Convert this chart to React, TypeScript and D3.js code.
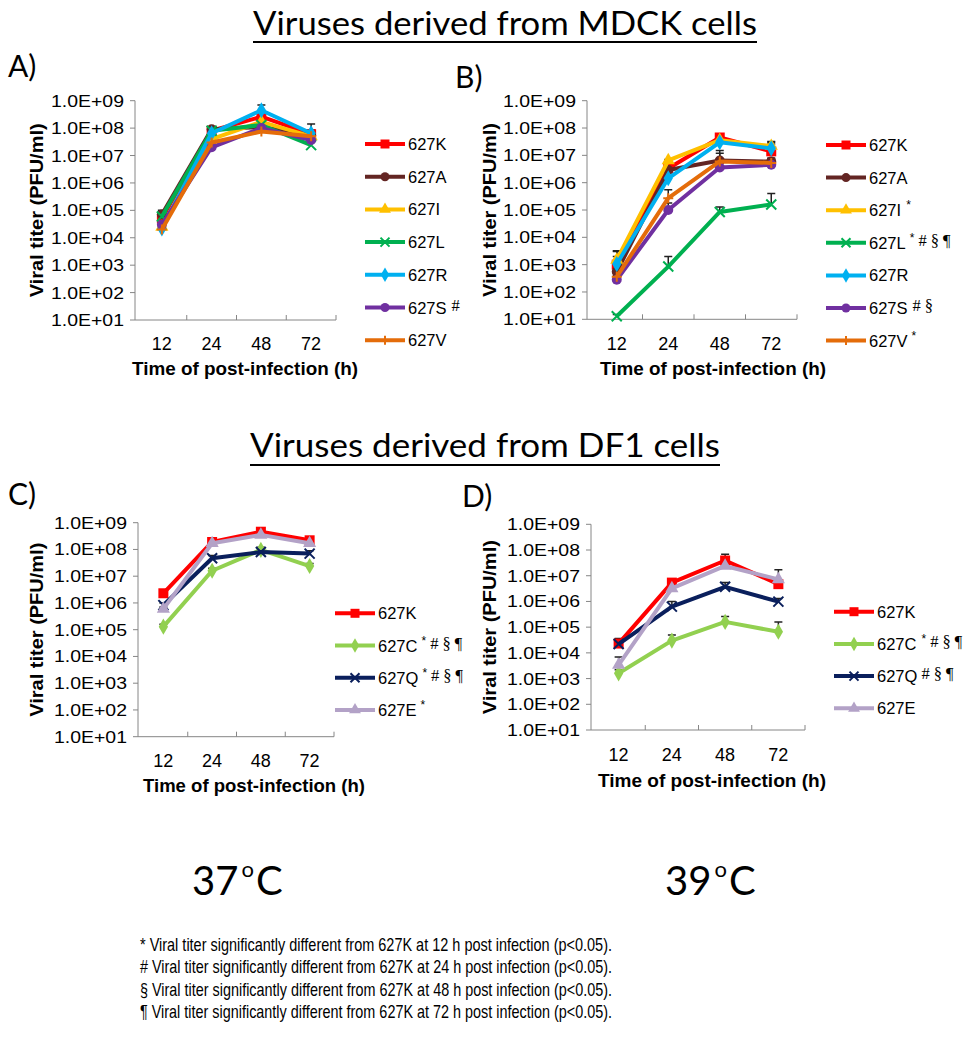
import * as d3 from 'd3';

const TIMES = ['12', '24', '48', '72'];
const DECADES = [1e1, 1e2, 1e3, 1e4, 1e5, 1e6, 1e7, 1e8, 1e9];

// A) MDCK 37C
const A_NAMES = ['627K', '627A', '627I', '627L', '627R', '627S', '627V'];
const A_MARKS = ['', '', '', '', '', ' #', ''];
const A_627K = [5.0e4, 8.0e7, 2.6e8, 6.0e7];
const A_627A = [7.0e4, 9.0e7, 1.1e8, 5.5e7];
const A_627I = [2.5e4, 4.0e7, 1.7e8, 5.0e7];
const A_627L = [6.0e4, 8.0e7, 1.3e8, 2.4e7];
const A_627R = [2.2e4, 6.5e7, 4.5e8, 6.5e7];
const A_627S = [3.0e4, 2.0e7, 1.0e8, 3.7e7];
const A_627V = [2.0e4, 3.0e7, 7.5e7, 5.0e7];
const A_627K_HI = [8.0e4, 1.0e8, 3.4e8, 8.0e7];
const A_627A_HI = [1.0e5, 1.1e8, 1.3e8, 1.4e8];
const A_627I_HI = [3.5e4, 5.0e7, 2.2e8, 6.5e7];
const A_627L_HI = [7.5e4, 9.5e7, 1.6e8, 3.2e7];
const A_627R_HI = [3.0e4, 8.0e7, 7.0e8, 8.5e7];
const A_627S_HI = [4.0e4, 2.8e7, 1.3e8, 5.0e7];
const A_627V_HI = [2.8e4, 4.0e7, 9.5e7, 6.5e7];

// B) MDCK 39C
const B_NAMES = ['627K', '627A', '627I', '627L', '627R', '627S', '627V'];
const B_MARKS = ['', '', ' *', '*#§¶', '', ' #§', '*'];
const B_627K = [1.0e3, 3.3e6, 4.5e7, 1.4e7];
const B_627A = [5.5e2, 2.9e6, 6.5e6, 5.9e6];
const B_627I = [1.5e3, 6.5e6, 3.6e7, 2.2e7];
const B_627L = [1.3e1, 8.5e2, 8.5e4, 1.6e5];
const B_627R = [1.05e3, 1.45e6, 3.0e7, 1.8e7];
const B_627S = [2.8e2, 1.0e5, 3.6e6, 4.5e6];
const B_627V = [3.6e2, 2.7e5, 6.0e6, 5.3e6];
const B_627K_HI = [3.0e3, 5.0e6, 5.0e7, 3.0e7];
const B_627A_HI = [1.0e3, 5.0e6, 1.5e7, 8.0e6];
const B_627I_HI = [3.2e3, 7.0e6, 4.2e7, 3.2e7];
const B_627L_HI = [1.5e1, 2.0e3, 1.3e5, 4.0e5];
const B_627R_HI = [2.0e3, 2.5e6, 4.0e7, 2.6e7];
const B_627S_HI = [4.0e2, 1.8e5, 5.0e6, 6.0e6];
const B_627V_HI = [6.0e2, 5.5e5, 1.2e7, 7.5e6];

// C) DF1 37C
const C_NAMES = ['627K', '627C', '627Q', '627E'];
const C_MARKS = ['', '*#§¶', '*#§¶', '*'];
const C_627K = [2.3e6, 1.9e8, 4.6e8, 2.2e8];
const C_627C = [1.3e5, 1.6e7, 9.6e7, 2.4e7];
const C_627Q = [8.3e5, 4.7e7, 8.0e7, 7.0e7];
const C_627E = [6.0e5, 1.7e8, 3.5e8, 1.7e8];
const C_627K_HI = [2.8e6, 2.2e8, 5.2e8, 2.6e8];
const C_627C_HI = [1.6e5, 2.0e7, 1.2e8, 3.0e7];
const C_627Q_HI = [1.0e6, 6.0e7, 9.5e7, 9.0e7];
const C_627E_HI = [7.0e5, 2.0e8, 4.0e8, 2.0e8];

// D) DF1 39C
const D_NAMES = ['627K', '627C', '627Q', '627E'];
const D_MARKS = ['', ' *#§¶', '#§¶', ''];
const D_627K = [2.3e4, 5.4e6, 3.9e7, 4.7e6];
const D_627C = [1.6e3, 3.0e4, 1.6e5, 6.6e4];
const D_627Q = [2.2e4, 6.3e5, 3.7e6, 9.8e5];
const D_627E = [3.4e3, 3.2e6, 2.4e7, 7.2e6];
const D_627K_HI = [3.6e4, 6.5e6, 6.8e7, 7.0e6];
const D_627C_HI = [2.2e3, 5.0e4, 2.6e5, 1.6e5];
const D_627Q_HI = [2.8e4, 1.0e6, 5.5e6, 1.3e6];
const D_627E_HI = [6.9e3, 4.0e6, 3.0e7, 1.7e7];

const FOOT_SYMBOLS = ['*', '#', '§', '¶'];
const FOOT_HOURS = ['12', '24', '48', '72'];

const COLORS: Record<string, string> = {
  '627K': '#ff0000',
  '627A': '#632523',
  '627I': '#ffc000',
  '627L': '#00b050',
  '627R': '#00b0f0',
  '627S': '#7030a0',
  '627V': '#e46c0a',
  '627C': '#92d050',
  '627Q': '#0a1f5c',
  '627E': '#b3a2c7',
};
const MARKERS: Record<string, string> = {
  '627K': 'square',
  '627A': 'circle',
  '627I': 'triangle',
  '627L': 'x',
  '627R': 'diamond',
  '627S': 'circle',
  '627V': 'plus',
  '627C': 'diamond',
  '627Q': 'x',
  '627E': 'triangle',
};

const SANS = '"Liberation Sans", Arial, sans-serif';
const SERIF = '"Liberation Serif", "Times New Roman", serif';
const NARROW = '"Liberation Sans Narrow", "Arial Narrow", "Liberation Sans", sans-serif';
const CALI = 'Lato, "Open Sans", sans-serif';
const AXIS = '#868686';

type Series = { name: string; marks: string; values: number[]; hi: number[] };

const zip = (names: string[], marks: string[], vals: number[][], hi: number[][]): Series[] =>
  names.map((n, i) => ({ name: n, marks: marks[i], values: vals[i], hi: hi[i] }));

const PANELS = [
  {
    label: 'A)', labelX: 8, labelY: 77,
    axisX: 135, top: 100.7, bottom: 320, xRange: [137, 336],
    tickY: 350, titleX: 245, titleY: 375, titleLen: 226, yTitleX: 36,
    legX: 365, legY: 144, legStep: 32.7,
    series: zip(A_NAMES, A_MARKS,
      [A_627K, A_627A, A_627I, A_627L, A_627R, A_627S, A_627V],
      [A_627K_HI, A_627A_HI, A_627I_HI, A_627L_HI, A_627R_HI, A_627S_HI, A_627V_HI]),
  },
  {
    label: 'B)', labelX: 455, labelY: 88,
    axisX: 587, top: 100.7, bottom: 319.3, xRange: [591, 797],
    tickY: 350, titleX: 713, titleY: 375, titleLen: 226, yTitleX: 489,
    legX: 826, legY: 145, legStep: 32.6,
    series: zip(B_NAMES, B_MARKS,
      [B_627K, B_627A, B_627I, B_627L, B_627R, B_627S, B_627V],
      [B_627K_HI, B_627A_HI, B_627I_HI, B_627L_HI, B_627R_HI, B_627S_HI, B_627V_HI]),
  },
  {
    label: 'C)', labelX: 8, labelY: 505,
    axisX: 138, top: 522.7, bottom: 736.7, xRange: [139, 334],
    tickY: 767, titleX: 254, titleY: 792, titleLen: 222, yTitleX: 36,
    legX: 335, legY: 613.3, legStep: 32.2,
    series: zip(C_NAMES, C_MARKS,
      [C_627K, C_627C, C_627Q, C_627E],
      [C_627K_HI, C_627C_HI, C_627Q_HI, C_627E_HI]),
  },
  {
    label: 'D)', labelX: 462, labelY: 507,
    axisX: 591, top: 524.3, bottom: 730, xRange: [592, 805],
    tickY: 761, titleX: 712, titleY: 787, titleLen: 228, yTitleX: 489,
    legX: 834, legY: 611.7, legStep: 32.2,
    series: zip(D_NAMES, D_MARKS,
      [D_627K, D_627C, D_627Q, D_627E],
      [D_627K_HI, D_627C_HI, D_627Q_HI, D_627E_HI]),
  },
];

function Marker({ kind, x, y, color, s = 10 }: { kind: string; x: number; y: number; color: string; s?: number }) {
  const t = `translate(${x},${y})`;
  const h = s / 2;
  if (kind === 'x') {
    return <path transform={t} d={`M${-h},${-h}L${h},${h}M${-h},${h}L${h},${-h}`} stroke={color} strokeWidth={2} fill="none" />;
  }
  if (kind === 'plus') {
    return <path transform={t} d={`M${-h},0L${h},0M0,${-h}L0,${h}`} stroke={color} strokeWidth={2} fill="none" />;
  }
  let sym: d3.SymbolType = d3.symbolSquare;
  let size = s * s;
  if (kind === 'circle') { sym = d3.symbolCircle; size = Math.PI * h * h; }
  if (kind === 'triangle') { sym = d3.symbolTriangle; size = s * s * 0.75; }
  if (kind === 'diamond') { sym = d3.symbolDiamond; size = s * s * 0.75; }
  return <path transform={t} d={d3.symbol(sym, size)() || ''} fill={color} />;
}

function LegendLabel({ name, marks, x, y }: { name: string; marks: string; x: number; y: number }) {
  const parts: any[] = [];
  let gap = 0;
  let cur = 0;
  marks.split('').forEach((c, i) => {
    if (c === ' ') { gap += 5; return; }
    const star = c === '*';
    const shift = star ? -7 : -3;
    parts.push(
      <tspan key={i} dx={gap || 4} dy={shift - cur} fontSize={star ? 12 : 16.5}
        fontFamily={star ? SANS : SERIF} fill="#000">{c}</tspan>
    );
    cur = shift;
    gap = 0;
  });
  return (
    <text x={x} y={y} fontFamily={SANS} fontSize={16.5} fill="#000">
      {name}
      {parts}
    </text>
  );
}

function Panel({ p }: { p: (typeof PANELS)[number] }) {
  const y = d3.scaleLog().domain([1e1, 1e9]).range([p.bottom, p.top]);
  const x = d3.scaleBand().domain(TIMES).range(p.xRange as [number, number]);
  const cx = (t: string) => (x(t) as number) + x.bandwidth() / 2;
  const line = d3.line<number>().x((_, i) => cx(TIMES[i])).y((d) => y(d));
  const boundaries = TIMES.map((t) => (x(t) as number) + x.bandwidth());
  const expLabel = (v: number) => '1.0E+' + String(Math.round(Math.log10(v))).padStart(2, '0');

  return (
    <g>
      <text x={p.labelX} y={p.labelY} fontFamily={CALI} fontSize={30} fill="#000">{p.label}</text>

      {/* y axis */}
      <line x1={p.axisX} x2={p.axisX} y1={p.top} y2={p.bottom} stroke={AXIS} strokeWidth={1} />
      {DECADES.map((v) => (
        <g key={v}>
          <line x1={p.axisX - 5} x2={p.axisX} y1={y(v)} y2={y(v)} stroke={AXIS} />
          <text x={p.axisX - 84} y={y(v) + 6} fontFamily={SANS} fontSize={17} fill="#000"
            textLength={73} lengthAdjust="spacingAndGlyphs">{expLabel(v)}</text>
        </g>
      ))}
      {/* x axis */}
      <line x1={p.axisX} x2={p.xRange[1]} y1={p.bottom} y2={p.bottom} stroke={AXIS} strokeWidth={1} />
      {boundaries.map((b, i) => (
        <line key={i} x1={b} x2={b} y1={p.bottom} y2={p.bottom - 5} stroke={AXIS} />
      ))}
      {TIMES.map((t) => (
        <text key={t} x={cx(t)} y={p.tickY} textAnchor="middle" fontFamily={SANS} fontSize={18} fill="#000">{t}</text>
      ))}
      <text x={p.titleX} y={p.titleY} textAnchor="middle" fontFamily={SANS} fontWeight="bold" fontSize={18.5}
        textLength={p.titleLen} lengthAdjust="spacingAndGlyphs" fill="#000">Time of post-infection (h)</text>
      <text transform={`translate(${p.yTitleX + 7},${(p.top + p.bottom) / 2}) rotate(-90)`} textAnchor="middle"
        fontFamily={SANS} fontWeight="bold" fontSize={19} textLength={174} lengthAdjust="spacingAndGlyphs"
        fill="#000">Viral titer (PFU/ml)</text>

      {/* error bars */}
      {p.series.map((s) => (
        <g key={'e' + s.name}>
          {s.values.map((v, i) => (
            <path key={i}
              d={`M${cx(TIMES[i])},${y(v)}V${y(s.hi[i])}M${cx(TIMES[i]) - 4},${y(s.hi[i])}H${cx(TIMES[i]) + 4}`}
              stroke="#222" strokeWidth={1.5} fill="none" />
          ))}
        </g>
      ))}

      {/* series */}
      {p.series.map((s) => (
        <g key={s.name}>
          <path d={line(s.values) || ''} fill="none" stroke={COLORS[s.name]} strokeWidth={4} strokeLinejoin="round" />
          {s.values.map((v, i) => (
            <Marker key={i} kind={MARKERS[s.name]} x={cx(TIMES[i])} y={y(v)} color={COLORS[s.name]} />
          ))}
        </g>
      ))}

      {/* legend */}
      {p.series.map((s, i) => {
        const ly = p.legY + i * p.legStep;
        return (
          <g key={'l' + s.name}>
            <line x1={p.legX} x2={p.legX + 40} y1={ly} y2={ly} stroke={COLORS[s.name]} strokeWidth={4} />
            <Marker kind={MARKERS[s.name]} x={p.legX + 20} y={ly} color={COLORS[s.name]} s={9} />
            <LegendLabel name={s.name} marks={s.marks} x={p.legX + 43} y={ly + 6} />
          </g>
        );
      })}
    </g>
  );
}

export default function App() {
  return (
    <svg width={971} height={1040} style={{ position: 'absolute', left: 0, top: 0, background: '#fff' }}>
      <rect width={971} height={1040} fill="#fff" />
      <text x={505} y={35} textAnchor="middle" fontFamily={CALI} fontSize={32} textLength={504}
        lengthAdjust="spacingAndGlyphs" fill="#000">Viruses derived from MDCK cells</text>
      <line x1={253} x2={757} y1={42} y2={42} stroke="#000" strokeWidth={2} />
      <text x={485} y={457} textAnchor="middle" fontFamily={CALI} fontSize={32} textLength={470}
        lengthAdjust="spacingAndGlyphs" fill="#000">Viruses derived from DF1 cells</text>
      <line x1={250} x2={720} y1={465} y2={465} stroke="#000" strokeWidth={2} />

      {PANELS.map((p) => <Panel key={p.label} p={p} />)}

      <text x={192} y={895} fontFamily={CALI} fontSize={40} fill="#000">
        37<tspan fontSize={22} dy={-18} dx={3}>o</tspan><tspan dy={18} dx={2}>C</tspan>
      </text>
      <text x={665} y={895} fontFamily={CALI} fontSize={40} fill="#000">
        39<tspan fontSize={22} dy={-18} dx={3}>o</tspan><tspan dy={18} dx={2}>C</tspan>
      </text>

      {FOOT_SYMBOLS.map((sym, i) => (
        <text key={sym} x={140} y={951 + i * 22.4} fontFamily={NARROW}
          fontSize={19} textLength={472} lengthAdjust="spacingAndGlyphs" fill="#000">
          {`${sym} Viral titer significantly different from 627K at ${FOOT_HOURS[i]} h post infection (p<0.05).`}
        </text>
      ))}
    </svg>
  );
}
